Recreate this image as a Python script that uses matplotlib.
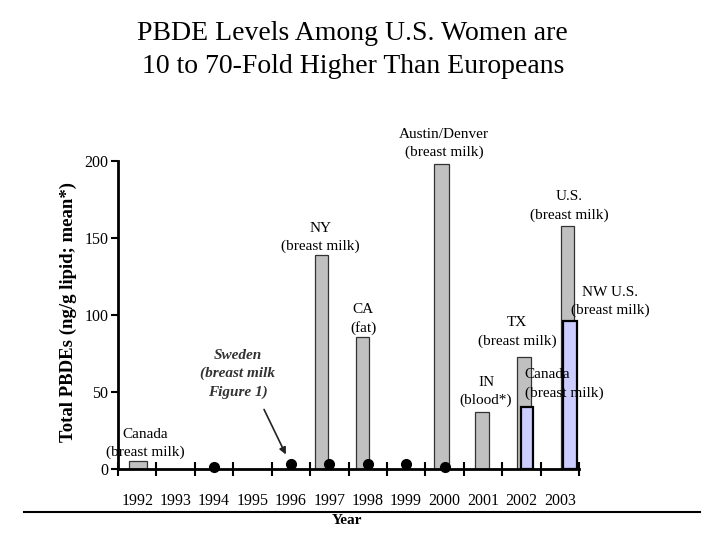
import matplotlib

matplotlib.use("Agg")
import matplotlib.pyplot as plt
from matplotlib.lines import Line2D

plt.rcParams["font.family"] = ["Liberation Serif", "DejaVu Serif"]

# data
years = list(range(1992, 2004))
bar_years = [1992, 1997, 1998, 2000, 2001, 2002, 2003]
bar_values = [5, 139, 86, 198, 37, 73, 158]
blue_years = [2002, 2003]
blue_values = [40, 96]
sweden_years = [1994, 1996, 1997, 1998, 1999, 2000]
sweden_values = [1, 3, 3.5, 3.5, 3, 1.5]

# layout only: small offsets / widths of the bars inside each year slot
bar_offsets = [0.02, -0.20, -0.14, -0.08, -0.03, 0.07, 0.20]
bar_widths = [0.47, 0.34, 0.34, 0.39, 0.36, 0.36, 0.34]
blue_offsets = [0.15, 0.26]
blue_widths = [0.31, 0.36]

GREY = "#c0c0c0"
LAV = "#ccccff"

fig = plt.figure(figsize=(7.2, 5.4), dpi=100)
ax = fig.add_axes([118 / 720, 1 - 469 / 540, (579 - 118) / 720, (469 - 161) / 540])

ax.bar([y + o for y, o in zip(bar_years, bar_offsets)], bar_values, width=bar_widths,
       color=GREY, edgecolor="#333333", linewidth=0.9, zorder=2)
ax.bar([y + o for y, o in zip(blue_years, blue_offsets)], blue_values, width=blue_widths,
       color=LAV, edgecolor="black", linewidth=1.6, zorder=3)
ax.plot(sweden_years, sweden_values, "o", color="black", markersize=7,
        linestyle="none", clip_on=False, zorder=5)

ax.set_xlim(1991.5, 2003.5)
ax.set_ylim(0, 200)
ax.set_yticks([0, 50, 100, 150, 200])
ax.set_xticks([y - 0.5 for y in years] + [2003.5])
ax.set_xticklabels([])
ax.set_xticks(years, minor=True)
ax.set_xticklabels([str(y) for y in years], minor=True)
ax.tick_params(axis="x", which="major", direction="inout", length=10, width=1.5)
ax.tick_params(axis="x", which="minor", length=0, pad=17, labelsize=11.5)
ax.tick_params(axis="y", direction="out", length=5, width=1.5, pad=2, labelsize=11.5)
for s in ["top", "right"]:
    ax.spines[s].set_visible(False)
for s in ["left", "bottom"]:
    ax.spines[s].set_linewidth(2)
    ax.spines[s].set_zorder(4)

lab = dict(ha="center", va="center", fontsize=11, linespacing=1.45, clip_on=False, zorder=6)
ax.text(1992.2, 16.6, "Canada\n(breast milk)", **lab)
ax.text(1996.76, 150.6, "NY\n(breast milk)", **lab)
ax.text(1997.88, 97.4, "CA\n(fat)", **lab)
ax.text(1999.99, 211.4, "Austin/Denver\n(breast milk)", **lab)
ax.text(2003.24, 170.8, "U.S.\n(breast milk)", **lab)
ax.text(2004.31, 108.8, "NW U.S.\n(breast milk)", **lab)
ax.text(2001.89, 89.0, "TX\n(breast milk)", **lab)
ax.text(2001.08, 50.6, "IN\n(blood*)", **lab)
ax.text(2002.09, 55.2, "Canada\n(breast milk)", ha="left", va="center", fontsize=11,
        linespacing=1.45, multialignment="left", zorder=6)
ax.text(1994.62, 61.7, "Sweden\n(breast milk\nFigure 1)", ha="center", va="center",
        fontsize=11, style="italic", fontweight="bold", color="#333333",
        linespacing=1.45, zorder=6)
ax.annotate("", xy=(1995.9, 7.8), xytext=(1995.27, 40.3),
            arrowprops=dict(arrowstyle="-|>", color="#222222", lw=1.2, mutation_scale=10))

fig.text(0.49, 1 - 50 / 540, "PBDE Levels Among U.S. Women are\n10 to 70-Fold Higher Than Europeans",
         ha="center", va="center", fontsize=20, linespacing=1.45)
fig.text(68 / 720, 1 - 312 / 540, "Total PBDEs (ng/g lipid; mean*)", rotation=90,
         ha="center", va="center", fontsize=13.5, fontweight="bold")
fig.add_artist(Line2D([24 / 720, 700 / 720], [1 - 512 / 540, 1 - 512 / 540],
                      color="black", linewidth=1.5))
fig.text(347 / 720, 1 - 521 / 540, "Year", ha="center", va="center",
         fontsize=11, fontweight="bold")

fig.savefig("out.png", dpi=100)
